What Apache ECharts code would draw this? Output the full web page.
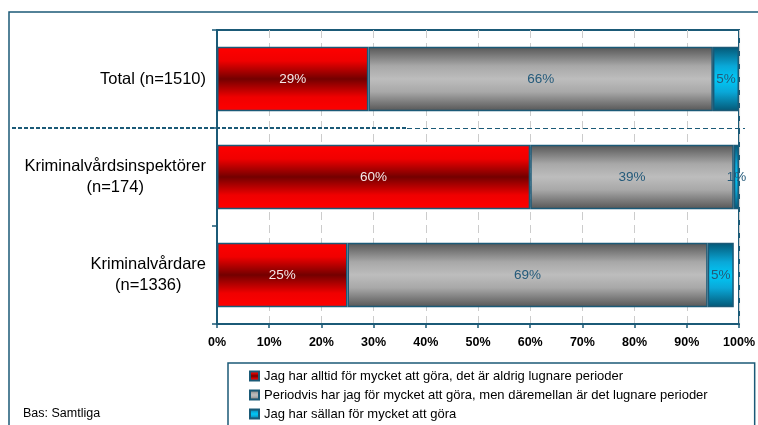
<!DOCTYPE html>
<html>
<head>
<meta charset="utf-8">
<script src="https://cdn.jsdelivr.net/npm/echarts@6/dist/echarts.min.js"></script>
<style>
  html, body { margin: 0; padding: 0; background: #fff; }
  #chart { width: 758px; height: 425px; }
</style>
</head>
<body>
<div id="chart"></div>
<script>
// Survey groups, top to bottom
const categories = ['Total (n=1510)', 'Kriminalvårdsinspektörer\n(n=174)', 'Kriminalvårdare\n(n=1336)'];

// Share of answers per group (%)
const alltid = [29, 60, 25];
const periodvis = [66, 39, 69];
const sallan = [5, 1, 5];

const seriesNames = [
  'Jag har alltid för mycket att göra, det är aldrig lugnare perioder',
  'Periodvis har jag för mycket att göra, men däremellan är det lugnare perioder',
  'Jag har sällan för mycket att göra'
];

const xTicks = [0, 10, 20, 30, 40, 50, 60, 70, 80, 90, 100];

const FONT = "'Liberation Sans', Arial, sans-serif";
const FRAME = '#1b5a77';

function vGrad(stops) {
  return new echarts.graphic.LinearGradient(0, 0, 0, 1,
    stops.map(s => ({ offset: s[0], color: s[1] })));
}

const redFill = vGrad([[0, '#ff0000'], [0.22, '#f00000'], [0.5, '#730000'], [0.78, '#f00000'], [1, '#ff0000']]);
const grayFill = vGrad([[0, '#555555'], [0.3, '#a8a8a8'], [0.5, '#bdbdbd'], [0.7, '#a8a8a8'], [1, '#555555']]);
const blueFill = vGrad([[0, '#045674'], [0.3, '#0aa8d8'], [0.5, '#00c8f6'], [0.7, '#0aa8d8'], [1, '#045674']]);

function barSeries(name, data, fill, labelColor) {
  return {
    name: name,
    type: 'bar',
    stack: 'all',
    data: data,
    barCategoryGap: '34%',
    itemStyle: { color: fill, borderColor: FRAME, borderWidth: 1.5 },
    emphasis: { disabled: true },
    label: {
      show: true,
      position: 'inside',
      formatter: '{c}%',
      color: labelColor,
      fontFamily: FONT,
      fontSize: 13.5
    }
  };
}

const chart = echarts.init(document.getElementById('chart'), null, { renderer: 'canvas' });

chart.setOption({
  animation: false,
  backgroundColor: '#ffffff',
  grid: {
    left: 217, right: 18, top: 30, bottom: 101,
    show: true, borderColor: FRAME, borderWidth: 2
  },
  xAxis: {
    type: 'value',
    min: 0, max: 100, interval: 10,
    axisLine: { show: true, lineStyle: { color: FRAME, width: 2 } },
    axisTick: { show: true, length: 4, lineStyle: { color: FRAME, width: 1.5 } },
    splitLine: { show: true, lineStyle: { color: '#cccccc', width: 1, type: [8, 5] } },
    axisLabel: {
      margin: 12,
      formatter: v => xTicks.includes(v) ? v + '%' : '',
      color: '#000', fontFamily: FONT, fontSize: 12.5, fontWeight: 'bold'
    }
  },
  yAxis: {
    type: 'category',
    inverse: true,
    data: categories,
    axisLine: { show: true, lineStyle: { color: FRAME, width: 2 } },
    axisTick: { show: true, length: 5, lineStyle: { color: FRAME, width: 1.5 } },
    splitLine: { show: false },
    axisLabel: {
      margin: 11,
      align: 'right',
      formatter: v => v.split('\n').map(l => '{c|' + l + '}').join('\n'),
      rich: {
        c: { align: 'center', fontSize: 16.5, lineHeight: 21, color: '#000', fontFamily: FONT }
      }
    }
  },
  legend: {
    orient: 'vertical',
    left: 228, top: 363,
    height: 90,
    data: seriesNames,
    icon: 'rect',
    itemWidth: 9, itemHeight: 9,
    itemGap: 5,
    padding: [6, 47, 20, 21],
    borderColor: FRAME, borderWidth: 1.5,
    textStyle: { color: '#000', fontFamily: FONT, fontSize: 13, lineHeight: 14 }
  },
  series: [
    barSeries(seriesNames[0], alltid, redFill, '#f6e8e8'),
    barSeries(seriesNames[1], periodvis, grayFill, '#245a7a'),
    barSeries(seriesNames[2], sallan, blueFill, '#245a7a')
  ]
});

// Separator between the total and the two sub-groups, placed on the category boundary
const yA = chart.convertToPixel({ yAxisIndex: 0 }, categories[0]);
const yB = chart.convertToPixel({ yAxisIndex: 0 }, categories[1]);
const sepY = Math.round((yA + yB) / 2);

chart.setOption({
  graphic: [
    {
      type: 'rect', silent: true, z: 0,
      shape: { x: 9, y: 12, width: 800, height: 500 },
      style: { fill: null, stroke: FRAME, lineWidth: 1.5 }
    },
    {
      type: 'line', silent: true, z: 10,
      shape: { x1: 12, y1: sepY, x2: 407, y2: sepY },
      style: { stroke: FRAME, lineWidth: 2, lineDash: [4, 2] }
    },
    {
      type: 'line', silent: true, z: 10,
      shape: { x1: 407, y1: sepY + 0.5, x2: 745, y2: sepY + 0.5 },
      style: { stroke: FRAME, lineWidth: 1, lineDash: [5, 3] }
    },
    {
      type: 'text', silent: true, left: 23, top: 407,
      style: { text: 'Bas: Samtliga', fill: '#000', font: '12.5px ' + FONT }
    }
  ]
});
</script>
</body>
</html>
